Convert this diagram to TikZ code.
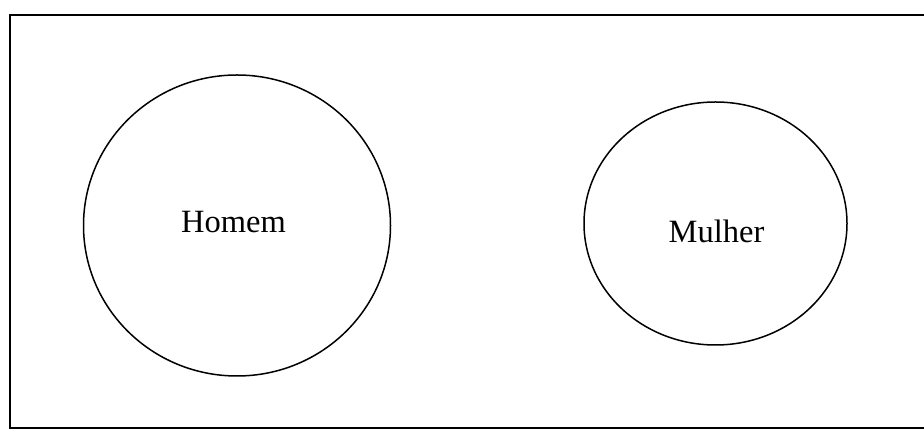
\documentclass[tikz,border=0pt]{standalone}
\usepackage{fontspec}
\setmainfont{Liberation Serif}
\usetikzlibrary{shapes.geometric}
\begin{document}
\begin{tikzpicture}[x=1pt,y=1pt,
  setbox/.style={draw=black,line width=1.6pt},
  oval/.style={ellipse,draw=black,line width=1.5pt,inner sep=0pt},
  lbl/.style={font=\fontsize{32.5}{38}\selectfont,inner sep=0pt,anchor=base}]
\useasboundingbox (0,0) rectangle (924,430);
\fill[white] (0,0) rectangle (924,430);
\coordinate (tr) at (924,415);
\coordinate (tl) at (10,415);
\coordinate (bl) at (10,2);
\coordinate (br) at (924,2);
\draw[setbox] (tr) -- (tl) -- (bl) -- (br);
\node[oval,minimum width=307pt,minimum height=301pt] (homem) at (237,204.5) {};
\node[oval,minimum width=263pt,minimum height=243pt] (mulher) at (715.5,206.5) {};
\node[lbl] (th) at (233.5,197) {Homem};
\node[lbl] (tm) at (716.5,187) {Mulher};
\end{tikzpicture}
\end{document}
